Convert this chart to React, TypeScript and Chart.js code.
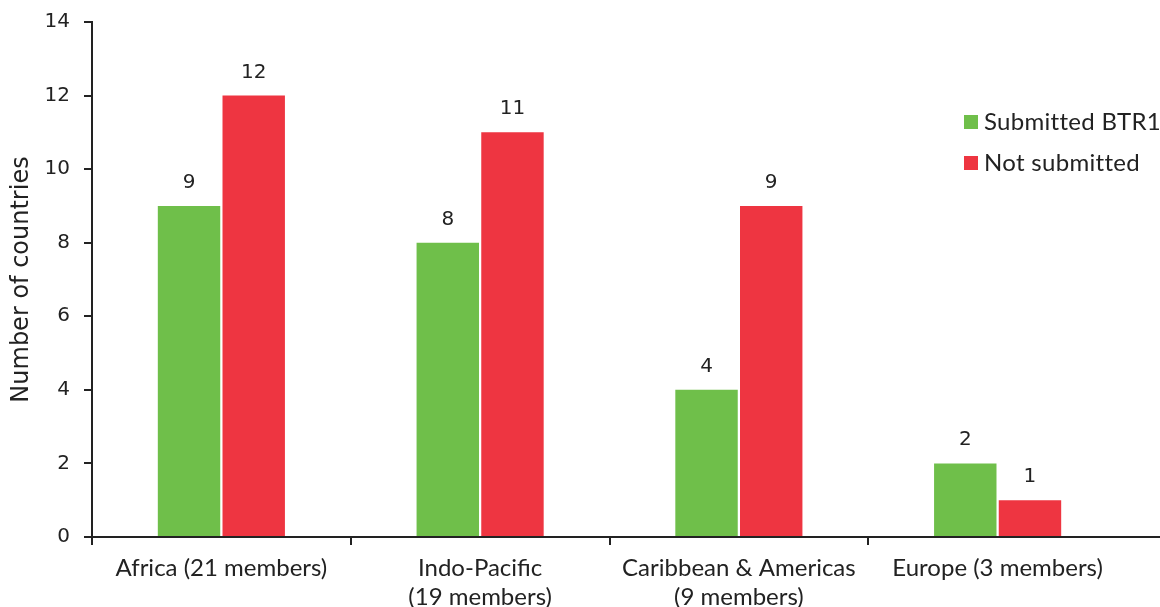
import { useEffect, useRef } from "react";
import { Chart, registerables } from "chart.js";

Chart.register(...registerables);

// Regional groups (x axis), with multi-line labels where they wrap
const regions: (string | string[])[] = [
  "Africa (21 members)",
  ["Indo-Pacific", "(19 members)"],
  ["Caribbean & Americas", "(9 members)"],
  "Europe (3 members)",
];

const submittedBTR1 = [9, 8, 4, 2];
const notSubmitted = [12, 11, 9, 1];

const seriesNames = ["Submitted BTR1", "Not submitted"];
const seriesColors = ["#6fbf4a", "#ee3541"];

const yMin = 0;
const yMax = 14;
const yStep = 2;

const INK = "#222222";
const LABEL_FONT = "Lato, 'Noto Sans', sans-serif";
const NUM_FONT = "'DejaVu Sans', sans-serif";

// Writes each bar's value above it
const valueLabels = {
  id: "valueLabels",
  afterDatasetsDraw(chart: any) {
    const { ctx } = chart;
    ctx.save();
    ctx.font = `20px ${NUM_FONT}`;
    ctx.fillStyle = INK;
    ctx.textAlign = "center";
    ctx.textBaseline = "alphabetic";
    chart.data.datasets.forEach((ds: any, di: number) => {
      const meta = chart.getDatasetMeta(di);
      meta.data.forEach((bar: any, i: number) => {
        ctx.fillText(String(ds.data[i]), bar.x, bar.y - 18);
      });
    });
    ctx.restore();
  },
};

// Square-swatch legend sitting in the upper right of the plot
const cornerLegend = {
  id: "cornerLegend",
  afterDraw(chart: any) {
    const { ctx, chartArea } = chart;
    const x = chartArea.right - 163;
    let y = chartArea.top + 93;
    ctx.save();
    ctx.font = `24px ${LABEL_FONT}`;
    ctx.letterSpacing = "0.3px";
    ctx.textBaseline = "middle";
    ctx.textAlign = "left";
    chart.data.datasets.forEach((ds: any) => {
      ctx.fillStyle = ds.backgroundColor;
      ctx.fillRect(x, y, 14, 14);
      ctx.fillStyle = INK;
      ctx.fillText(ds.label, x + 20, y + 7);
      y += 41;
    });
    ctx.restore();
  },
};

// Carries the baseline on to the right edge of the canvas
const baselineRun = {
  id: "baselineRun",
  afterDraw(chart: any) {
    const { ctx, chartArea, width } = chart;
    ctx.save();
    ctx.strokeStyle = INK;
    ctx.lineWidth = 2;
    ctx.beginPath();
    ctx.moveTo(chartArea.right - 1, chartArea.bottom);
    ctx.lineTo(width, chartArea.bottom);
    ctx.stroke();
    ctx.restore();
  },
};

export default function App() {
  const canvasRef = useRef<HTMLCanvasElement | null>(null);

  useEffect(() => {
    document.body.style.margin = "0";
    const canvas = canvasRef.current;
    if (!canvas) return;

    const chart = new Chart(canvas, {
      type: "bar",
      data: {
        labels: regions,
        datasets: [
          {
            label: seriesNames[0],
            data: submittedBTR1,
            backgroundColor: seriesColors[0],
            categoryPercentage: 0.5,
            barPercentage: 0.965,
          },
          {
            label: seriesNames[1],
            data: notSubmitted,
            backgroundColor: seriesColors[1],
            categoryPercentage: 0.5,
            barPercentage: 0.965,
          },
        ],
      },
      options: {
        responsive: false,
        animation: false,
        layout: {
          padding: { top: 22, right: 33, left: 0, bottom: 0 },
        },
        plugins: {
          legend: { display: false },
          tooltip: { enabled: false },
        },
        scales: {
          x: {
            border: { color: INK, width: 2 },
            grid: {
              drawOnChartArea: false,
              tickLength: 8,
              lineWidth: 2,
              tickColor: (c: any) =>
                c.type === "tick" ? INK : "rgba(0,0,0,0)",
            },
            ticks: {
              color: INK,
              font: { family: LABEL_FONT, size: 24, lineHeight: 1.2 },
              padding: 9,
              maxRotation: 0,
              autoSkip: false,
            },
            afterFit(scale: any) {
              scale.height = 70;
            },
          },
          y: {
            min: yMin,
            max: yMax,
            border: { color: INK, width: 2 },
            grid: {
              drawOnChartArea: false,
              tickLength: 8,
              lineWidth: 2,
              color: INK,
            },
            ticks: {
              stepSize: yStep,
              color: INK,
              font: { family: NUM_FONT, size: 20, lineHeight: 0.8 },
              padding: 14,
            },
            title: {
              display: true,
              text: "Number of countries",
              color: INK,
              font: { family: NUM_FONT, size: 24 },
              padding: { top: 7, bottom: 0 },
            },
            afterFit(scale: any) {
              scale.width = 92;
            },
          },
        },
      },
      plugins: [valueLabels, cornerLegend, baselineRun],
    });

    return () => chart.destroy();
  }, []);

  return (
    <div style={{ width: 1160, height: 607, background: "#ffffff" }}>
      <canvas ref={canvasRef} width={1160} height={607} style={{ display: "block" }} />
    </div>
  );
}
